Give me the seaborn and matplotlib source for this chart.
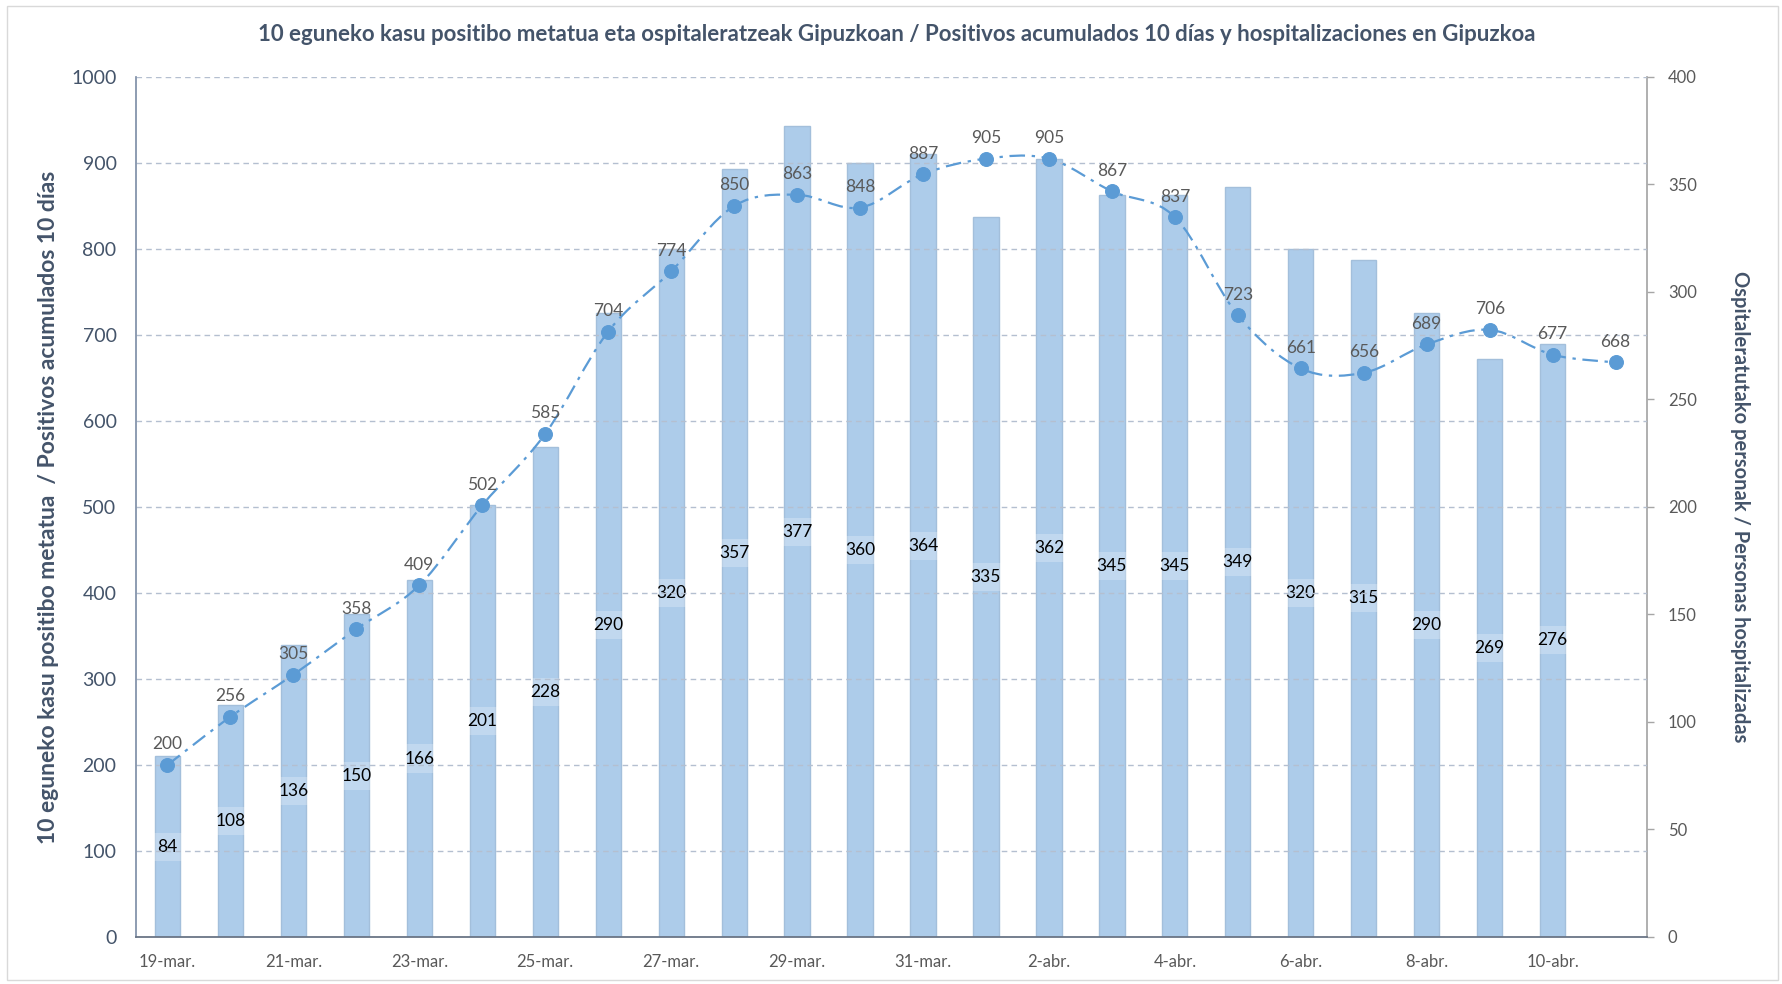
import numpy as np
import pandas as pd
import matplotlib
matplotlib.use('Agg')
import matplotlib.pyplot as plt
from matplotlib.path import Path
from matplotlib.patches import PathPatch, Rectangle
import seaborn as sns

# data
dates = ['19-mar.', '20-mar.', '21-mar.', '22-mar.', '23-mar.', '24-mar.', '25-mar.', '26-mar.',
         '27-mar.', '28-mar.', '29-mar.', '30-mar.', '31-mar.', '1-abr.', '2-abr.', '3-abr.',
         '4-abr.', '5-abr.', '6-abr.', '7-abr.', '8-abr.', '9-abr.', '10-abr.', '11-abr.']
positivos_10d = [200, 256, 305, 358, 409, 502, 585, 704, 774, 850, 863, 848,
                 887, 905, 905, 867, 837, 723, 661, 656, 689, 706, 677, 668]
hospitalizados = [84, 108, 136, 150, 166, 201, 228, 290, 320, 357, 377, 360,
                  364, 335, 362, 345, 345, 349, 320, 315, 290, 269, 276]

title = ('10 eguneko kasu positibo metatua eta ospitaleratzeak Gipuzkoan / '
         'Positivos acumulados 10 días y hospitalizaciones en Gipuzkoa')
ylabel_left = '10 eguneko kasu positibo metatua  / Positivos acumulados 10 días'
ylabel_right = 'Ospitaleratutako personak / Personas hospitalizadas'

sns.set_theme(style='white')
plt.rcParams['font.family'] = ['Lato', 'DejaVu Sans']

BAR = '#ADCCEA'
LINE = '#5B9BD5'
DARK = '#44546A'
GREY = '#595959'

df_bar = pd.DataFrame({'fecha': dates[:len(hospitalizados)], 'hosp': hospitalizados})
pos = np.arange(len(dates))

fig = plt.figure(figsize=(17.82, 9.84), dpi=100)
ax = fig.add_axes([0.0763, 0.0478, 0.848, 0.874])
ax2 = ax.twinx()

# bars on right axis
sns.barplot(data=df_bar, x='fecha', y='hosp', order=dates, ax=ax2, color=BAR,
            edgecolor='#A3BFDB', linewidth=1, width=0.4, saturation=1)
for i, v in enumerate(hospitalizados):
    ax2.text(i, v / 2, f'{v}', ha='center', va='center', fontsize=12.5, color='black',
             bbox=dict(boxstyle='square,pad=0.35', fc='white', ec='none', alpha=0.25))
ax2.set_ylim(0, 400)
ax2.set_yticks(range(0, 401, 50))
ax2.set_ylabel(ylabel_right, rotation=270, labelpad=38, fontsize=14.5, fontweight='bold',
               color=DARK)
ax2.tick_params(axis='y', colors='#A6A6A6', labelcolor=GREY, labelsize=12,
                length=5, width=1, pad=10, direction='out', right=True)

# smooth dash-dot line on left axis
ax.set_zorder(ax2.get_zorder() + 1)
ax.patch.set_visible(False)
y = np.array(positivos_10d, dtype=float)
verts = [(pos[0], y[0])]
codes = [Path.MOVETO]
n = len(y)
for i in range(n - 1):
    p0 = np.array([pos[max(i - 1, 0)], y[max(i - 1, 0)]])
    p1 = np.array([pos[i], y[i]])
    p2 = np.array([pos[i + 1], y[i + 1]])
    p3 = np.array([pos[min(i + 2, n - 1)], y[min(i + 2, n - 1)]])
    c1 = p1 + (p2 - p0) / 6
    c2 = p2 - (p3 - p1) / 6
    verts += [tuple(c1), tuple(c2), tuple(p2)]
    codes += [Path.CURVE4] * 3
ax.add_patch(PathPatch(Path(verts, codes), fill=False, edgecolor=LINE, lw=1.6,
                       linestyle=(0, (7, 3, 1.5, 3)), zorder=3))
sns.lineplot(x=pos, y=positivos_10d, ax=ax, linestyle='none', marker='o', markersize=10,
             color=LINE, markeredgecolor=LINE, zorder=4)
for i, v in enumerate(positivos_10d):
    ax.annotate(f'{v}', (pos[i], v), xytext=(0, 9), textcoords='offset points',
                ha='center', va='bottom', fontsize=12.5, color=GREY)

ax.set_xlim(-0.5, len(dates) - 0.5)
ax.set_ylim(0, 1000)
ax.set_yticks(range(0, 1001, 100))
ax.grid(axis='y', color='#B4BFD0', linestyle=(0, (4, 3)), linewidth=1)
ax.grid(axis='x', visible=False)
ax2.grid(False)
ax.set_xticks(pos[::2])
ax.set_xticklabels(dates[::2])
ax.tick_params(axis='x', labelsize=12, labelcolor=GREY, length=0, pad=12)
ax.tick_params(axis='y', labelsize=14, labelcolor=DARK, length=0, pad=14)
ax.set_xlabel('')
ax.set_ylabel(ylabel_left, fontsize=16.5, fontweight='bold', color=DARK, labelpad=9)
ax2.set_xlabel('')

for a in (ax, ax2):
    a.spines['top'].set_visible(False)
ax.spines['right'].set_visible(False)
ax2.spines['left'].set_visible(False)
ax2.spines['bottom'].set_visible(False)
ax2.spines['right'].set_color('#A6A6A6')
ax.spines['left'].set_color('#8090A8')
ax.spines['bottom'].set_color('#6A7586')
ax.spines['bottom'].set_linewidth(1.3)

fig.text(0.503, 0.965, title, ha='center', va='center', fontsize=16,
         fontweight='bold', color=DARK)
fig.patches.append(Rectangle((0.004, 0.004), 0.994, 0.99, transform=fig.transFigure,
                             fill=False, edgecolor='#D9D9D9', lw=1))

fig.savefig('out.png', dpi=100)
